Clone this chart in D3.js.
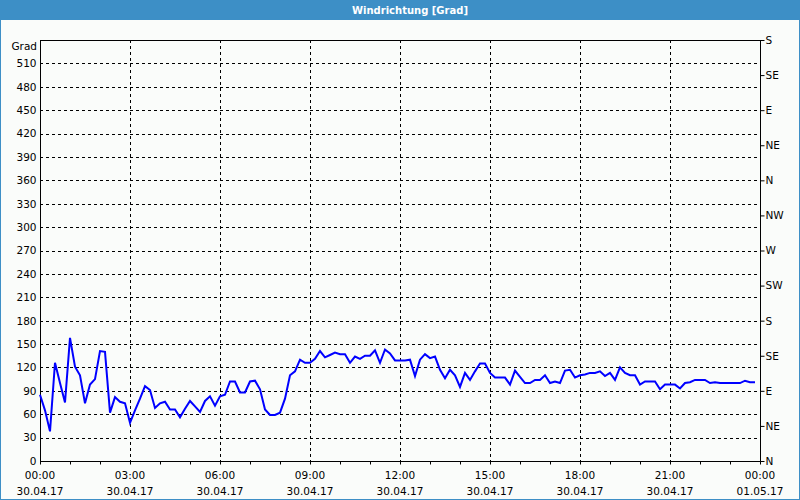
<!DOCTYPE html>
<html><head><meta charset="utf-8">
<script src="https://cdn.jsdelivr.net/npm/d3@7"></script>
<style>
html,body{margin:0;padding:0;background:#fafcfa;}
svg{display:block;font-family:"DejaVu Sans",Verdana,sans-serif;}
</style></head><body>
<svg id="c" width="800" height="500"></svg>
<script>
const title = "Windrichtung [Grad]";
const yUnit = "Grad";
// wind direction in degrees, one reading every 10 minutes from 00:00
const values = [85,65,38,126,100,75,158,121,110,74,98,105,141,140,62,82,76,74,49,65,
80,96,91,68,74,76,66,66,56,67,77,70,63,77,83,71,83,85,102,102,
88,88,102,103,92,66,59,59,62,80,110,115,130,126,126,131,141,133,136,139,
137,137,126,134,131,135,135,142,126,143,138,129,129,129,130,109,130,137,132,134,
117,106,117,110,95,113,104,115,125,125,113,107,107,107,98,116,108,100,100,104,
104,110,100,102,100,116,117,107,110,111,113,113,115,109,113,104,120,113,110,110,
98,102,102,102,92,98,98,98,93,100,101,104,104,104,100,101,100,100,100,100,
100,103,101,101];
const stepMinutes = 10;
const timeTicks = ["00:00","03:00","06:00","09:00","12:00","15:00","18:00","21:00","00:00"];
const dateTicks = ["30.04.17","30.04.17","30.04.17","30.04.17","30.04.17","30.04.17","30.04.17","30.04.17","01.05.17"];
const leftTicks = [0,30,60,90,120,150,180,210,240,270,300,330,360,390,420,450,480,510];
const rightTicks = [0,45,90,135,180,225,270,315,360,405,450,495,540];
const rightLabels = ["N","NE","E","SE","S","SW","W","NW","N","NE","E","SE","S"];

const FS = 10.5;
const svg = d3.select("#c");
const W=800,H=500;
const m={l:40,r:760,t:40,b:461};
const x = d3.scaleLinear().domain([0,1440]).range([m.l,m.r]);
const y = d3.scaleLinear().domain([0,540]).range([m.b,m.t]);

svg.append("rect").attr("x",0).attr("y",0).attr("width",W).attr("height",H).attr("fill","#fafcfa");
svg.append("rect").attr("x",0).attr("y",0).attr("width",W).attr("height",20).attr("fill","#3d8fc6");
svg.append("rect").attr("x",0.5).attr("y",0.5).attr("width",W-1).attr("height",H-1).attr("fill","none").attr("stroke","#3d8fc6");
svg.append("text").attr("x",W/2+10).attr("y",14).attr("text-anchor","middle").attr("fill","#fff")
  .attr("font-size",10).attr("font-weight","bold").text(title);

// gridlines
const g = svg.append("g");
g.selectAll("line.h").data(leftTicks.filter(v=>v>0)).join("line")
  .attr("x1",m.l).attr("x2",m.r).attr("y1",d=>Math.round(y(d))+0.5).attr("y2",d=>Math.round(y(d))+0.5)
  .attr("stroke","#000").attr("stroke-dasharray","3,3");
const vt = d3.range(180,1440,180);
g.selectAll("line.v").data(vt).join("line")
  .attr("y1",m.t).attr("y2",m.b).attr("x1",d=>Math.round(x(d))+0.5).attr("x2",d=>Math.round(x(d))+0.5)
  .attr("stroke","#000").attr("stroke-dasharray","3,3");

// left axis
const la = svg.append("g").attr("transform",`translate(${m.l+0.5},0)`)
  .call(d3.axisLeft(y).tickValues(leftTicks).tickSize(0).tickPadding(4));
la.select(".domain").remove();
la.selectAll("text").attr("font-size",FS).attr("fill","#000").attr("font-family","'DejaVu Sans',sans-serif");
svg.append("text").attr("x",37).attr("y",50).attr("text-anchor","end").attr("font-size",FS).text(yUnit);

// right axis
const ra = svg.append("g").attr("transform",`translate(${m.r+0.5},0)`)
  .call(d3.axisRight(y).tickValues(rightTicks).tickFormat((d,i)=>rightLabels[i]).tickSize(4).tickPadding(1));
ra.select(".domain").remove();
ra.selectAll("line").attr("stroke","#000");
ra.selectAll("text").attr("font-size",FS).attr("fill","#000").attr("font-family","'DejaVu Sans',sans-serif");

// bottom axis minor ticks
const ba = svg.append("g").attr("transform",`translate(0,${m.b+0.5})`)
  .call(d3.axisBottom(x).tickValues(d3.range(0,1441,60)).tickSize(3).tickFormat(""));
ba.select(".domain").remove();
ba.selectAll("line").attr("stroke","#000");
const labs = svg.append("g");
labs.selectAll("text.t").data(timeTicks).join("text")
  .attr("x",(d,i)=>x(i*180)).attr("y",479).attr("text-anchor","middle").attr("font-size",FS).text(d=>d);
labs.selectAll("text.d").data(dateTicks).join("text")
  .attr("x",(d,i)=>x(i*180)).attr("y",495).attr("text-anchor","middle").attr("font-size",FS).text(d=>d);

// frame
svg.append("rect").attr("x",m.l+0.5).attr("y",m.t+0.5).attr("width",m.r-m.l).attr("height",m.b-m.t)
  .attr("fill","none").attr("stroke","#000");

// line
const line = d3.line().x((d,i)=>x(i*stepMinutes)).y(d=>y(d));
svg.append("path").datum(values).attr("d",line).attr("fill","none").attr("stroke","#0000ff").attr("stroke-width",2);
</script>
</body></html>
